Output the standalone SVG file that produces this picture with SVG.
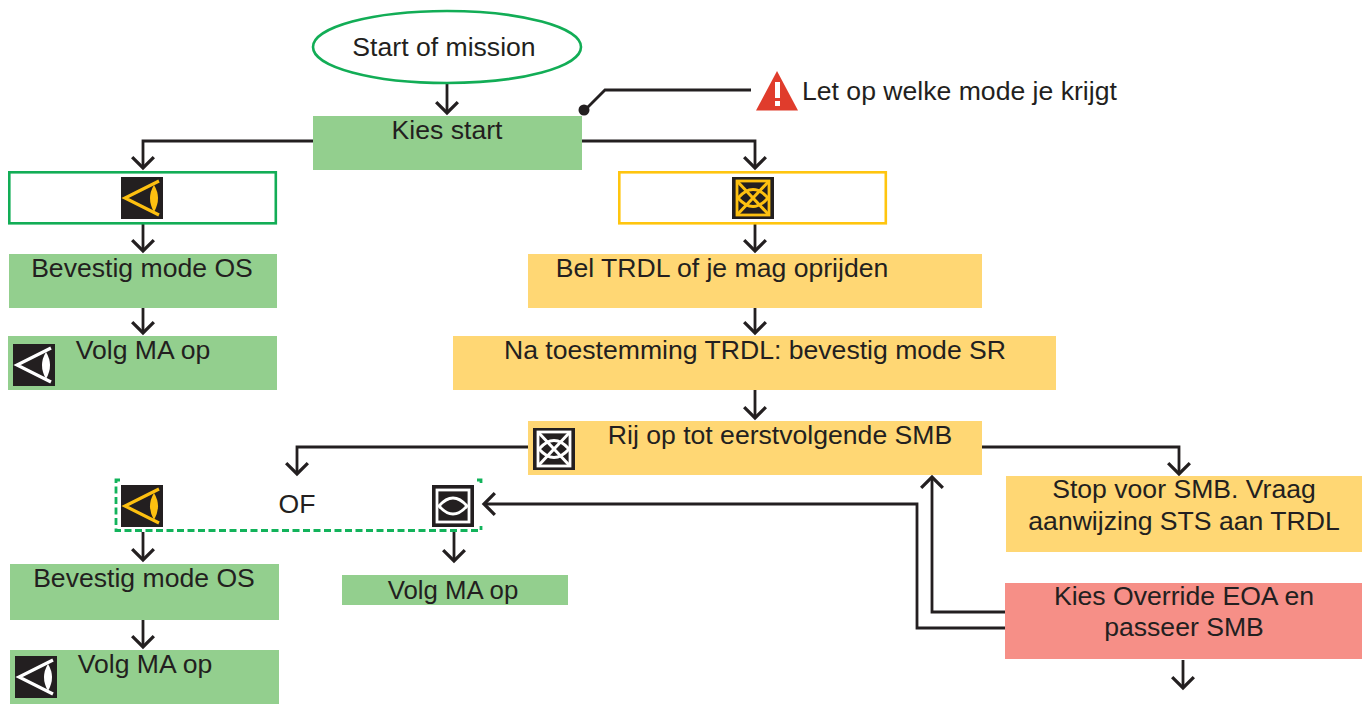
<svg xmlns="http://www.w3.org/2000/svg" width="1366" height="704" viewBox="0 0 1366 704">
<style>
text{font-family:"Liberation Sans",Arial,sans-serif;font-size:26.6px;fill:#231f20}
.g{fill:#93cf8e}.y{fill:#ffd774}.r{fill:#f68f87}
.c{fill:none;stroke:#231f20;stroke-width:2.800;stroke-linejoin:miter}
.bg{fill:#231f20}
</style>
<defs>
<marker id="a" markerUnits="userSpaceOnUse" markerWidth="26" markerHeight="26" refX="12" refY="10" viewBox="0 0 24 20" orient="auto"><path d="M2 0L12 10L2 20" fill="none" stroke="#231f20" stroke-width="3"/></marker>
<g id="eye"><rect width="42" height="42" class="bg"/><path d="M38 4L4 21L38 38" fill="none" stroke="currentColor" stroke-width="3.200"/><path d="M33 8Q25 21 33 35Q41 21 33 8Z" fill="currentColor"/></g>
<g id="sr"><rect width="42" height="42" class="bg"/><rect x="5" y="4" width="32" height="34" fill="none" stroke="currentColor" stroke-width="2.800"/><path d="M5 4L37 38M37 4L5 38" stroke="currentColor" stroke-width="3"/><path d="M6 21Q21 4 36 21Q21 38 6 21Z" fill="none" stroke="currentColor" stroke-width="3"/></g>
</defs>
<g id="connectors">
<path class="c" d="M447 84V113" marker-end="url(#a)"/>
<path class="c" d="M313 141H143V168" marker-end="url(#a)"/>
<path class="c" d="M582 141H755V168" marker-end="url(#a)"/>
<path class="c" d="M143 224V251" marker-end="url(#a)"/>
<path class="c" d="M755 224V251" marker-end="url(#a)"/>
<path class="c" d="M143 308V333" marker-end="url(#a)"/>
<path class="c" d="M755 308V333" marker-end="url(#a)"/>
<path class="c" d="M755 390V418" marker-end="url(#a)"/>
<path class="c" d="M528 447H297V474" marker-end="url(#a)"/>
<path class="c" d="M982 447H1179V474" marker-end="url(#a)"/>
<path class="c" d="M143 532V560" marker-end="url(#a)"/>
<path class="c" d="M454 532V561" marker-end="url(#a)"/>
<path class="c" d="M143 620V647" marker-end="url(#a)"/>
<path class="c" d="M1005 612H932V477" marker-end="url(#a)"/>
<path class="c" d="M1005 628H917V504H484" marker-end="url(#a)"/>
<path class="c" d="M1183 660V688" marker-end="url(#a)"/>
<path class="c" d="M585 110L605 90H751"/>
<circle cx="584" cy="110" r="5.500" fill="#231f20"/>
</g>
<g id="start"><ellipse cx="447" cy="47" rx="134" ry="36" fill="#fff" stroke="#12ad56" stroke-width="2.600"/><text x="444" y="56" text-anchor="middle">Start of mission</text></g>
<g id="warning"><path d="M777 71L798 110.500H756Z" fill="#e03c2c"/><rect x="775" y="82" width="5" height="16" fill="#fff"/><rect x="775" y="101" width="5" height="5" fill="#fff"/><text x="802" y="100">Let op welke mode je krijgt</text></g>
<g id="kies-start"><rect class="g" x="313" y="116" width="269" height="54"/><text x="447" y="139" text-anchor="middle">Kies start</text></g>
<g id="os-box"><rect x="9.300" y="172.300" width="266.500" height="51" fill="#fff" stroke="#12ad56" stroke-width="2.600"/><use href="#eye" x="121" y="177" color="#fdc010"/></g>
<g id="sr-box"><rect x="619.300" y="172.300" width="266.500" height="51" fill="#fff" stroke="#ffc50f" stroke-width="2.600"/><use href="#sr" x="732" y="177" color="#fdc010"/></g>
<g id="bevestig-os-1"><rect class="g" x="9" y="254" width="268" height="54"/><text x="142" y="277" text-anchor="middle">Bevestig mode OS</text></g>
<g id="volg-1"><rect class="g" x="8" y="336" width="269" height="54"/><use href="#eye" x="13" y="344" color="#fff"/><text x="143" y="359" text-anchor="middle">Volg MA op</text></g>
<g id="bel"><rect class="y" x="528" y="254" width="454" height="54"/><text x="722" y="277" text-anchor="middle">Bel TRDL of je mag oprijden</text></g>
<g id="toestemming"><rect class="y" x="453" y="336" width="603" height="54"/><text x="755" y="359" text-anchor="middle">Na toestemming TRDL: bevestig mode SR</text></g>
<g id="rij-op"><rect class="y" x="528" y="421" width="454" height="54"/><use href="#sr" x="533" y="428" color="#fff"/><text x="780" y="444" text-anchor="middle">Rij op tot eerstvolgende SMB</text></g>
<g id="stop"><rect class="y" x="1006" y="476" width="356" height="76"/><text x="1184" y="498" text-anchor="middle">Stop voor SMB. Vraag</text><text x="1184" y="530" text-anchor="middle">aanwijzing STS aan TRDL</text></g>
<g id="of-box"><path d="M120 480H116V530.500H481V526M477 480H481V483" fill="none" stroke="#12b35b" stroke-width="2.800" stroke-dasharray="7 3.500"/><use href="#eye" x="121" y="485" color="#fdc010"/><text x="297" y="513" text-anchor="middle">OF</text><g transform="translate(432 485)"><rect width="42" height="42" class="bg"/><rect x="5" y="5" width="32" height="32" fill="none" stroke="#fff" stroke-width="2.800"/><path d="M7 21Q21 5 35 21Q21 37 7 21Z" fill="none" stroke="#fff" stroke-width="2.800"/></g></g>
<g id="bevestig-os-2"><rect class="g" x="10" y="564" width="269" height="56"/><text x="144" y="587" text-anchor="middle">Bevestig mode OS</text></g>
<g id="volg-2"><rect class="g" x="342" y="575" width="226" height="30"/><text x="453" y="599" text-anchor="middle" style="font-size:25.800px">Volg MA op</text></g>
<g id="volg-3"><rect class="g" x="10" y="650" width="269" height="54"/><use href="#eye" x="15" y="656" color="#fff"/><text x="145" y="673" text-anchor="middle">Volg MA op</text></g>
<g id="override"><rect class="r" x="1005" y="583" width="357" height="76"/><text x="1184" y="605" text-anchor="middle">Kies Override EOA en</text><text x="1184" y="636" text-anchor="middle">passeer SMB</text></g>
</svg>
